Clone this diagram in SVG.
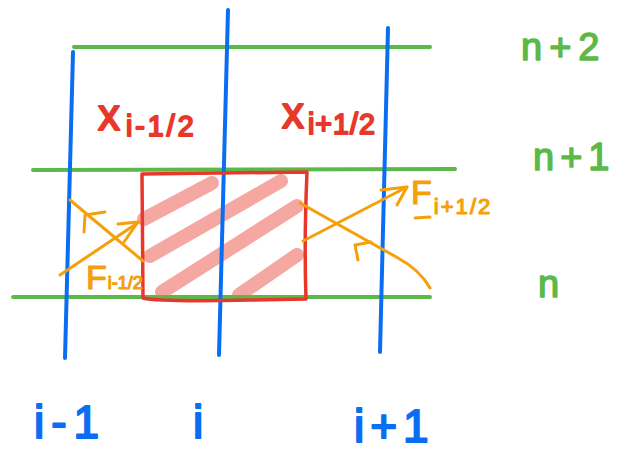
<svg xmlns="http://www.w3.org/2000/svg" width="619" height="459" viewBox="0 0 619 459">
<style>
.g{stroke:#5cb947;stroke-width:4;stroke-linecap:round;fill:none}
.b{stroke:#0a6ef2;stroke-width:4;stroke-linecap:round;fill:none}
.r{stroke:#e8382b;stroke-width:3.5;stroke-linecap:round;stroke-linejoin:round;fill:none}
.p{stroke:#f5a7a1;stroke-width:14;stroke-linecap:round;fill:none}
.o{stroke:#f5a00a;stroke-width:3;stroke-linecap:round;stroke-linejoin:round;fill:none}
text{font-family:"Liberation Sans",Arial,sans-serif;stroke-linejoin:round}
.tg{fill:#5cb947;stroke:#5cb947;stroke-width:1.5;font-size:38px}
.tb{fill:#0a6ef2;stroke:#0a6ef2;stroke-width:2;font-size:46px}
.tr{fill:#e8382b;stroke:#e8382b;stroke-width:2;font-size:44px}
.to{fill:#f5a00a;stroke:#f5a00a;stroke-width:1.2;font-size:34px}
.sub{font-size:0.65em}
</style>
<rect width="619" height="459" fill="#ffffff"/>
<g id="hatch">
<path class="p" d="M144 219 L212 183"/>
<path class="p" d="M150 256 L281 181"/>
<path class="p" d="M162 292 L297 206"/>
<path class="p" d="M239 295 L297 255"/>
</g>
<g id="time-lines">
<path class="g" d="M74 47 L430 47"/>
<path class="g" d="M33 170 L455 169"/>
<path class="g" d="M13 297 L430 297"/>
</g>
<g id="space-lines">
<path class="b" d="M73 52 L65 358"/>
<path class="b" d="M228 10 L219 355"/>
<path class="b" d="M388 28 L380 352"/>
</g>
<g id="cell">
<path class="r" d="M142 174 L143 298 Q160 302 250 300 L306 299 Q304 240 307 172 L142 174"/>
</g>
<g id="flux-left">
<path class="o" d="M60 275 L139 222"/>
<path class="o" d="M118 224 L138 222 L124 242"/>
<path class="o" d="M70 200 L143 261"/>
<path class="o" d="M84 232 L85 215 L105 212"/>
<text class="to" x="86" y="289">F<tspan dx="1" font-size="18">i-1/2</tspan></text>
</g>
<g id="flux-right">
<path class="o" d="M303 241 L407 187"/>
<path class="o" d="M381 190 L407 187 L397 205"/>
<path class="o" d="M300 203 L398 258 Q420 270 430 288"/>
<path class="o" d="M358 260 L355 245 L371 242"/>
<text class="to" x="411" y="204">F<tspan class="sub" dx="2" dy="10" letter-spacing="2">i+1/2</tspan></text>
<path class="o" d="M415 218 L430 217"/>
</g>
<g id="labels">
<text class="tr" x="98" y="130">x<tspan class="sub" dx="6" dy="6" letter-spacing="3">i-1/2</tspan></text>
<text class="tr" x="282" y="128">x<tspan class="sub" dx="4" dy="6" letter-spacing="1">i+1/2</tspan></text>
<text class="tg" x="521" y="60" letter-spacing="7">n+2</text>
<text class="tg" x="533" y="170" letter-spacing="6">n+1</text>
<text class="tg" x="538" y="297">n</text>
<text class="tb" x="34" y="438" letter-spacing="7">i-1</text>
<text class="tb" x="193" y="438">i</text>
<text class="tb" x="354" y="442" letter-spacing="6">i+1</text>
</g>
</svg>
